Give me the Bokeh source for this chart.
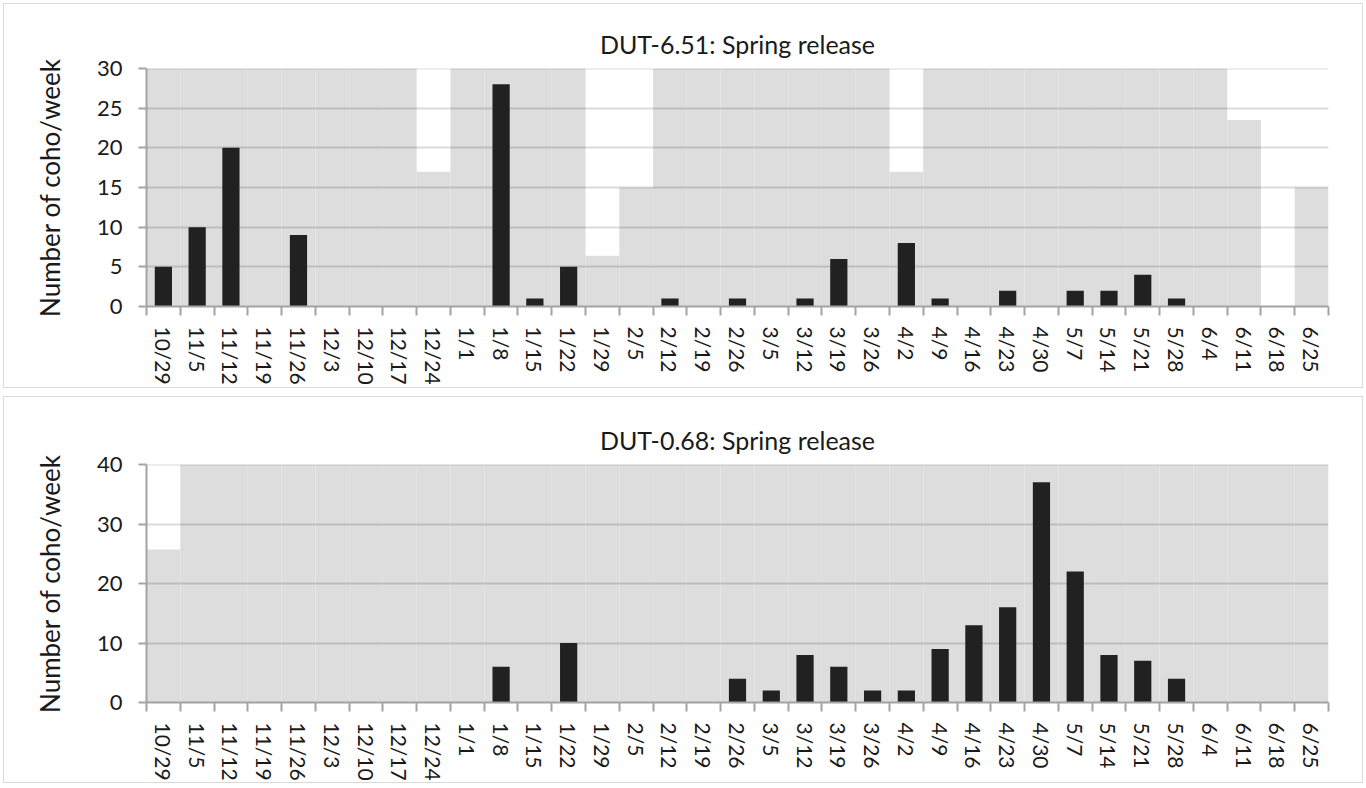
from bokeh.plotting import figure
from bokeh.models import Range1d, FixedTicker
from bokeh.layouts import column
from bokeh.embed import file_html
from bokeh.resources import INLINE

# ---------------- data ----------------
weeks = ["10/29", "11/5", "11/12", "11/19", "11/26", "12/3", "12/10", "12/17",
         "12/24", "1/1", "1/8", "1/15", "1/22", "1/29", "2/5", "2/12", "2/19",
         "2/26", "3/5", "3/12", "3/19", "3/26", "4/2", "4/9", "4/16", "4/23",
         "4/30", "5/7", "5/14", "5/21", "5/28", "6/4", "6/11", "6/18", "6/25"]

# weekly coho counts
coho_651 = [5, 10, 20, 0, 9, 0, 0, 0, 0, 0, 28, 1, 5, 0, 0, 1, 0, 1, 0, 1,
            6, 0, 8, 1, 0, 2, 0, 2, 2, 4, 1, 0, 0, 0, 0]
coho_068 = [0, 0, 0, 0, 0, 0, 0, 0, 0, 0, 6, 0, 10, 0, 0, 0, 0, 4, 2, 8,
            6, 2, 2, 9, 13, 16, 37, 22, 8, 7, 4, 0, 0, 0, 0]

# grey background series (sampling coverage per week)
effort_651 = [30, 30, 30, 30, 30, 30, 30, 30, 17, 30, 30, 30, 30, 6.4, 15, 30, 30,
              30, 30, 30, 30, 30, 17, 30, 30, 30, 30, 30, 30, 30, 30, 30, 23.5, 0, 15]
effort_068 = [25.7, 40, 40, 40, 40, 40, 40, 40, 40, 40, 40, 40, 40, 40, 40, 40, 40,
              40, 40, 40, 40, 40, 40, 40, 40, 40, 40, 40, 40, 40, 40, 40, 40, 40, 40]

yticks_651 = [0, 5, 10, 15, 20, 25, 30]
yticks_068 = [0, 10, 20, 30, 40]

title_651 = "DUT-6.51: Spring release"
title_068 = "DUT-0.68: Spring release"
ylabel = "Number of coho/week"

FONT = "Lato"
TEXT = "#1a1a1a"
AXIS = "#a3a3a3"


def panel(title, counts, effort, yticks, top_border, bottom_border, height):
    n = len(weeks)
    xs = [i + 0.5 for i in range(n)]
    p = figure(width=1360, height=height,
               x_range=Range1d(0, n), y_range=Range1d(yticks[0], yticks[-1]),
               output_backend="svg", toolbar_location=None,
               min_border_left=142, min_border_right=36,
               min_border_top=top_border, min_border_bottom=bottom_border,
               title=title)
    p.styles = {"border": "1px solid #d9d9d9"}
    p.outline_line_color = None
    p.background_fill_color = "white"
    p.border_fill_color = "white"
    p.xgrid.visible = False
    p.ygrid.visible = False

    # grey background bars
    p.vbar(x=xs, top=effort, bottom=0, width=1.0,
           fill_color="#dddddd", line_color=None)
    # grid lines (over background)
    p.hspan(y=yticks[1:], line_color="#000000", line_alpha=0.14, line_width=2)
    # count bars
    p.vbar(x=xs, top=counts, bottom=0, width=0.51,
           fill_color="#212121", line_color=None)

    # title
    p.title.align = "center"
    p.title.text_font = FONT
    p.title.text_font_size = "25px"
    p.title.text_font_style = "normal"
    p.title.text_color = TEXT
    p.title.standoff = 20

    # x axis
    xa = p.xaxis[0]
    xa.ticker = FixedTicker(ticks=xs, minor_ticks=list(range(n + 1)))
    xa.major_label_overrides = {x: w for x, w in zip(xs, weeks)}
    xa.major_label_orientation = "vertical"
    xa.major_tick_out = 0
    xa.major_tick_in = 0
    xa.minor_tick_out = 9
    xa.minor_tick_in = 0
    xa.minor_tick_line_color = AXIS
    xa.minor_tick_line_width = 2
    xa.axis_line_color = AXIS
    xa.axis_line_width = 2
    xa.major_label_text_font = FONT
    xa.major_label_text_font_size = "21px"
    xa.major_label_text_color = TEXT
    xa.major_label_standoff = 11

    # y axis
    ya = p.yaxis[0]
    ya.ticker = FixedTicker(ticks=yticks)
    ya.major_tick_out = 8
    ya.major_tick_in = 0
    ya.minor_tick_line_color = None
    ya.major_tick_line_color = AXIS
    ya.major_tick_line_width = 2
    ya.axis_line_color = AXIS
    ya.axis_line_width = 2
    ya.major_label_text_font = FONT
    ya.major_label_text_font_size = "22px"
    ya.major_label_text_color = TEXT
    ya.major_label_standoff = 16
    ya.axis_label = ylabel
    ya.axis_label_text_font = FONT
    ya.axis_label_text_font_size = "26px"
    ya.axis_label_text_font_style = "normal"
    ya.axis_label_text_color = TEXT
    ya.axis_label_standoff = 28
    return p


p1 = panel(title_651, coho_651, effort_651, yticks_651, 64, 83, 385)
p2 = panel(title_068, coho_068, effort_068, yticks_068, 67, 82, 387)

layout = column(p1, p2, spacing=8, margin=(3, 0, 0, 3))

open("out.html", "w").write(file_html(layout, INLINE))
